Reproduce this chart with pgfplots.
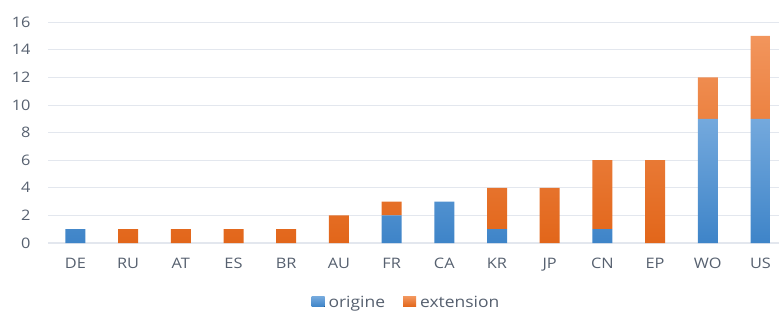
\documentclass[border=0pt]{standalone}
\usepackage{pgfplots}
\pgfplotsset{compat=1.18}
\usepackage{fontspec}
\setmainfont{Open Sans}[FakeStretch=1.13]
\definecolor{txt}{HTML}{56606F}
\definecolor{gridc}{HTML}{E3E7EE}
\definecolor{bluetop}{HTML}{74A9DD}
\definecolor{bluebot}{HTML}{3E84C8}
\definecolor{orgtop}{HTML}{F2955C}
\definecolor{orgbot}{HTML}{E2661A}
\begin{document}
\begin{tikzpicture}[x=1bp,y=1bp]
\path[use as bounding box] (-48bp,-70bp) rectangle (731bp,243bp);
\begin{axis}[
  at={(0,0)}, anchor=south west,
  scale only axis,
  x=52.7bp, y=13.8bp,
  ybar stacked,
  bar width=20bp,
  xmin=-0.52, xmax=13.36,
  ymin=0, ymax=16,
  ytick={0,2,...,16},
  xtick={0,...,13},
  xticklabels={DE,RU,AT,ES,BR,AU,FR,CA,KR,JP,CN,EP,WO,US},
  axis line style={draw=none},
  axis x line*=bottom,
  x axis line style={draw=gridc, line width=1.2pt},
  major tick length=0pt,
  xmajorgrids=false,
  ymajorgrids=true,
  grid style={draw=gridc, line width=1pt},
  tick label style={font=\fontsize{14.5}{16}\selectfont, text=txt},
  /pgf/number format/assume math mode=true,
  yticklabel style={xshift=-14bp},
  xticklabel style={yshift=-12bp},
  legend style={at={(0.49,-0.27)}, anchor=center, draw=none, legend columns=2,
    font=\fontsize{15.5}{17}\selectfont, text=txt,
    /tikz/every even column/.append style={column sep=16bp},
    /tikz/every odd column/.append style={column sep=2bp}},
  legend image code/.code={\fill[#1] (0bp,-4bp) rectangle (13bp,6bp);},
  clip=false,
]
\addplot[draw=none, top color=bluetop, bottom color=bluebot] coordinates {
(0,1) (1,0) (2,0) (3,0) (4,0) (5,0) (6,2) (7,3) (8,1) (9,0) (10,1) (11,0) (12,9) (13,9)};
\addlegendentry{origine}
\addplot[draw=none, top color=orgtop, bottom color=orgbot] coordinates {
(0,0) (1,1) (2,1) (3,1) (4,1) (5,2) (6,1) (7,0) (8,3) (9,4) (10,5) (11,6) (12,3) (13,6)};
\addlegendentry{extension}
\end{axis}
\end{tikzpicture}
\end{document}
